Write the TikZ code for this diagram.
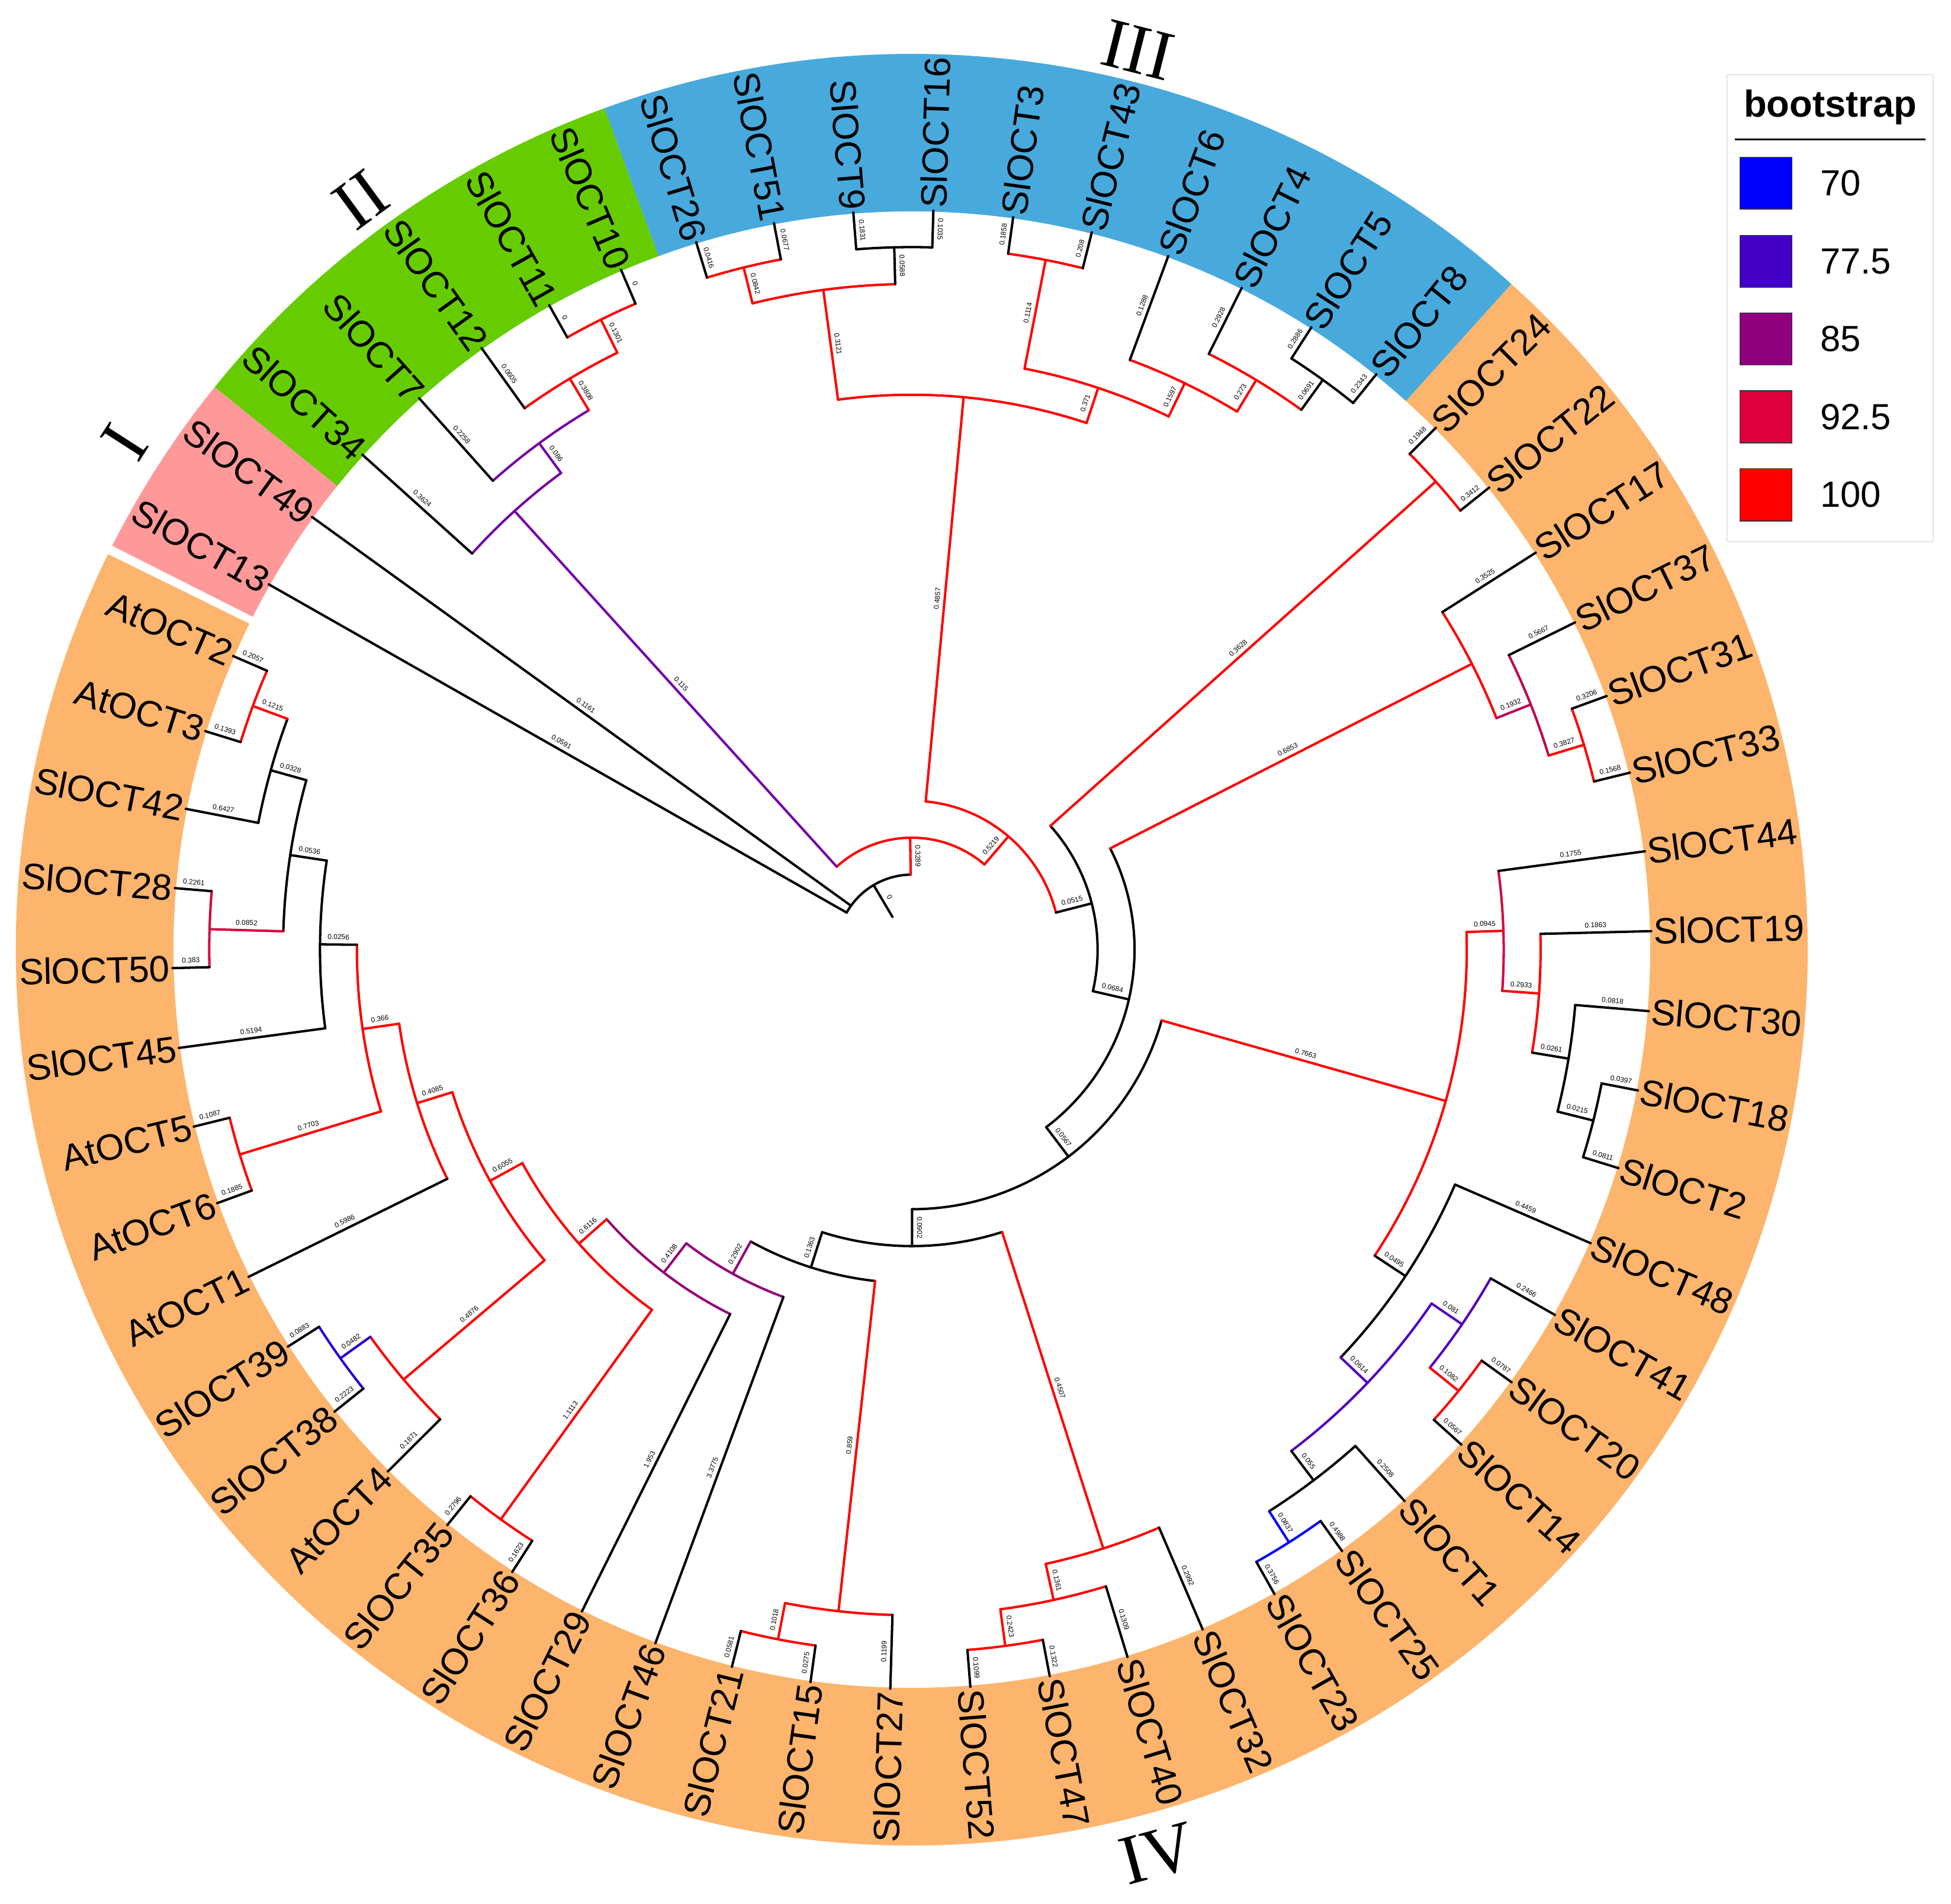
\documentclass[tikz,border=0pt]{standalone}
\usepackage{fontspec}
\setmainfont{Liberation Sans}
\newfontfamily\romanfont{Liberation Serif}
\definecolor{cI}{HTML}{FF9999}
\definecolor{cII}{HTML}{66CC00}
\definecolor{cIII}{HTML}{48A9DC}
\definecolor{cIV}{HTML}{FDB46C}
\definecolor{b100}{HTML}{FF0000}
\definecolor{b92}{HTML}{D6003F}
\definecolor{bAP}{HTML}{BC0050}
\definecolor{b85}{HTML}{930078}
\definecolor{bII}{HTML}{7400A6}
\definecolor{b77}{HTML}{5000BE}
\definecolor{bZ}{HTML}{2300DC}
\definecolor{b70}{HTML}{0000FF}
\definecolor{L70}{HTML}{0000FF}
\definecolor{L77}{HTML}{4400C7}
\definecolor{L85}{HTML}{8E007E}
\definecolor{L92}{HTML}{DD003D}
\definecolor{L100}{HTML}{FF0000}
\pgfmathdeclarefunction{trad}{1}{\pgfmathparse{12.49-0.6235*#1}}
\tikzset{
  tree/.style={line width=1.15pt, line cap=round, line join=round},
  blab/.style={font=\fontsize{3.4}{4}\selectfont, inner sep=2.2pt, anchor=south},
  lname/.style={font=\fontsize{17.6}{20}\selectfont, inner sep=0.04cm},
  grp/.style={font=\romanfont\fontsize{34}{40}\selectfont, inner sep=0pt},
  legtxt/.style={font=\fontsize{17.5}{20}\selectfont, anchor=west, inner sep=0pt},
  legbox/.style={draw=black!80, line width=0.015cm},
}
% radial branch: colour, angle, parent height, child height, label
\newcommand{\brn}[5]{%
  \draw[tree,#1] (#2:{trad(#3)}) -- (#2:{trad(#4)});
  \pgfmathsetmacro{\myMid}{(trad(#3)+trad(#4))/2}%
  \pgfmathsetmacro{\myRot}{ifthenelse(and(#2>-90,#2<86),#2,#2+180)}%
  \node[blab,rotate=\myRot] at (#2:\myMid) {#5};
}
% arc of an inner node: colour, height, start angle, end angle
\newcommand{\arcn}[4]{%
  \pgfmathsetmacro{\myRR}{trad(#2)}%
  \draw[tree,#1] (#3:\myRR) arc[start angle=#3, end angle=#4, radius=\myRR];
}
% leaf: angle, parent height, branch label, name
\newcommand{\leaf}[4]{%
  \brn{black}{#1}{#2}{0}{#3}%
  \pgfmathtruncatemacro{\myIsR}{and(#1>-90,#1<90)}%
  \ifnum\myIsR=1
    \node[lname,rotate=#1,anchor=west] at (#1:12.49) {#4};
  \else
    \node[lname,rotate=#1+180,anchor=east] at (#1:12.49) {#4};
  \fi
}
\newcommand{\band}[3]{%
  \fill[#1] (#2:12.47) arc[start angle=#2, end angle=#3, radius=12.47]
    -- (#3:15.13) arc[start angle=#3, end angle=#2, radius=15.13] -- cycle;
}
\begin{document}
\begin{tikzpicture}
\useasboundingbox (-15.40,-16.12) rectangle (17.55,16.04);
\fill[white] (-15.40,-16.12) rectangle (17.55,16.04);
% coloured ranges
\band{cI}{153.2}{141.09}
\band{cII}{141.09}{110.06}
\band{cIII}{110.06}{47.99}
\band{cIV}{47.99}{-206.2}
% arcs
\arcn{black}{18}{150.4}{90.852}
\arcn{b100}{17}{132.167}{49.537}
\arcn{b100}{16}{84.646}{14.428}
\arcn{black}{15}{41.780}{-12.925}
\arcn{black}{14}{27.038}{-52.887}
\arcn{black}{13}{-15.829}{-89.944}
\arcn{black}{12}{-72.273}{-107.615}
\arcn{black}{11}{-96.325}{-118.904}
\arcn{b85}{10}{-110.290}{-127.517}
\arcn{b85}{9}{-116.497}{-138.537}
\arcn{b100}{8}{-125.807}{-151.266}
\arcn{b100}{1}{-122.703}{-128.910}
\arcn{b100}{7}{-139.773}{-162.758}
\arcn{b100}{2}{-135.117}{-144.428}
\arcn{bZ}{1}{-141.324}{-147.531}
\arcn{b100}{6}{-153.738}{-171.778}
\arcn{b100}{5}{-163.049}{-180.506}
\arcn{b100}{1}{-159.945}{-166.152}
\arcn{black}{4}{-172.359}{-188.652}
\arcn{black}{3}{-181.669}{-195.635}
\arcn{b92}{1}{-178.566}{-184.772}
\arcn{black}{2}{-190.979}{-200.290}
\arcn{b100}{1}{-197.186}{-203.393}
\arcn{bII}{4}{137.986}{126.348}
\arcn{bII}{3}{131.779}{120.917}
\arcn{b100}{2}{125.572}{116.262}
\arcn{b100}{1}{119.366}{113.159}
\arcn{b100}{5}{97.642}{71.650}
\arcn{b100}{2}{103.849}{91.435}
\arcn{b100}{1}{106.952}{100.745}
\arcn{black}{1}{94.538}{88.331}
\arcn{b100}{4}{79.021}{64.279}
\arcn{b100}{1}{82.124}{75.917}
\arcn{b100}{3}{69.710}{58.848}
\arcn{b100}{2}{63.503}{54.193}
\arcn{black}{1}{57.297}{51.090}
\arcn{b100}{1}{44.883}{38.676}
\arcn{b100}{3}{32.469}{21.607}
\arcn{bAP}{2}{26.262}{16.952}
\arcn{b100}{1}{20.055}{13.848}
\arcn{b100}{5}{1.822}{-33.480}
\arcn{b92}{4}{7.641}{-3.997}
\arcn{b100}{3}{1.434}{-9.428}
\arcn{black}{2}{-4.773}{-14.083}
\arcn{black}{1}{-10.979}{-17.186}
\arcn{black}{4}{-23.393}{-43.566}
\arcn{b77}{3}{-34.255}{-52.876}
\arcn{b77}{2}{-29.600}{-38.911}
\arcn{b100}{1}{-35.807}{-42.014}
\arcn{black}{2}{-48.221}{-57.532}
\arcn{b70}{1}{-54.428}{-60.635}
\arcn{b100}{3}{-66.841}{-77.704}
\arcn{b100}{2}{-73.048}{-82.359}
\arcn{b100}{1}{-79.255}{-85.462}
\arcn{b100}{2}{-91.669}{-100.980}
\arcn{b100}{1}{-97.876}{-104.083}
% inner stems
\brn{black}{120.626}{19}{18}{0}
\brn{b100}{90.852}{18}{17}{0.3289}
\brn{bII}{132.167}{17}{4}{0.115}
\brn{b100}{49.537}{17}{16}{0.5219}
\brn{b100}{84.646}{16}{5}{0.4857}
\brn{black}{14.428}{16}{15}{0.0515}
\brn{b100}{41.780}{15}{1}{0.3628}
\brn{black}{-12.925}{15}{14}{0.0684}
\brn{b100}{27.038}{14}{3}{0.6853}
\brn{black}{-52.887}{14}{13}{0.0567}
\brn{b100}{-15.829}{13}{5}{0.7663}
\brn{black}{-89.944}{13}{12}{0.0902}
\brn{b100}{-72.273}{12}{3}{0.4507}
\brn{black}{-107.615}{12}{11}{0.1363}
\brn{b100}{-96.325}{11}{2}{0.859}
\brn{b85}{-118.904}{11}{10}{0.2902}
\brn{b85}{-127.517}{10}{9}{0.4108}
\brn{b100}{-138.537}{9}{8}{0.6116}
\brn{b100}{-125.807}{8}{1}{1.1113}
\brn{b100}{-151.266}{8}{7}{0.6055}
\brn{b100}{-139.773}{7}{2}{0.4876}
\brn{b100}{-162.758}{7}{6}{0.4085}
\brn{bZ}{-144.428}{2}{1}{0.0482}
\brn{b100}{-171.778}{6}{5}{0.366}
\brn{b100}{-163.049}{5}{1}{0.7703}
\brn{black}{-180.506}{5}{4}{0.0256}
\brn{black}{-188.652}{4}{3}{0.0536}
\brn{b92}{-181.669}{3}{1}{0.0852}
\brn{black}{-195.635}{3}{2}{0.0328}
\brn{b100}{-200.290}{2}{1}{0.1215}
\brn{bII}{126.348}{4}{3}{0.086}
\brn{b100}{120.917}{3}{2}{0.3808}
\brn{b100}{116.262}{2}{1}{0.1301}
\brn{b100}{97.642}{5}{2}{0.3121}
\brn{b100}{71.650}{5}{4}{0.371}
\brn{b100}{103.849}{2}{1}{0.0842}
\brn{black}{91.435}{2}{1}{0.0588}
\brn{b100}{79.021}{4}{1}{0.1114}
\brn{b100}{64.279}{4}{3}{0.1597}
\brn{b100}{58.848}{3}{2}{0.273}
\brn{black}{54.193}{2}{1}{0.0691}
\brn{bAP}{21.607}{3}{2}{0.1932}
\brn{b100}{16.952}{2}{1}{0.3827}
\brn{b100}{1.822}{5}{4}{0.0945}
\brn{black}{-33.480}{5}{4}{0.0495}
\brn{b100}{-3.997}{4}{3}{0.2933}
\brn{black}{-9.428}{3}{2}{0.0261}
\brn{black}{-14.083}{2}{1}{0.0215}
\brn{b77}{-43.566}{4}{3}{0.0614}
\brn{b77}{-34.255}{3}{2}{0.081}
\brn{black}{-52.876}{3}{2}{0.055}
\brn{b100}{-38.911}{2}{1}{0.1082}
\brn{b70}{-57.532}{2}{1}{0.0837}
\brn{b100}{-77.704}{3}{2}{0.1361}
\brn{b100}{-82.359}{2}{1}{0.2423}
\brn{b100}{-100.980}{2}{1}{0.1018}
% leaves
\leaf{150.4}{18}{0.0591}{SlOCT13}
\leaf{144.193}{18}{0.1161}{SlOCT49}
\leaf{137.986}{4}{0.3624}{SlOCT34}
\leaf{131.779}{3}{0.2258}{SlOCT7}
\leaf{125.572}{2}{0.0605}{SlOCT12}
\leaf{119.366}{1}{0}{SlOCT11}
\leaf{113.159}{1}{0}{SlOCT10}
\leaf{106.952}{1}{0.0416}{SlOCT26}
\leaf{100.745}{1}{0.0677}{SlOCT51}
\leaf{94.538}{1}{0.1831}{SlOCT9}
\leaf{88.331}{1}{0.1035}{SlOCT16}
\leaf{82.124}{1}{0.1858}{SlOCT3}
\leaf{75.917}{1}{0.208}{SlOCT43}
\leaf{69.710}{3}{0.1288}{SlOCT6}
\leaf{63.503}{2}{0.2928}{SlOCT4}
\leaf{57.297}{1}{0.2886}{SlOCT5}
\leaf{51.090}{1}{0.2343}{SlOCT8}
\leaf{44.883}{1}{0.1948}{SlOCT24}
\leaf{38.676}{1}{0.3412}{SlOCT22}
\leaf{32.469}{3}{0.3525}{SlOCT17}
\leaf{26.262}{2}{0.5667}{SlOCT37}
\leaf{20.055}{1}{0.3206}{SlOCT31}
\leaf{13.848}{1}{0.1568}{SlOCT33}
\leaf{7.641}{4}{0.1755}{SlOCT44}
\leaf{1.434}{3}{0.1863}{SlOCT19}
\leaf{-4.773}{2}{0.0818}{SlOCT30}
\leaf{-10.979}{1}{0.0397}{SlOCT18}
\leaf{-17.186}{1}{0.0811}{SlOCT2}
\leaf{-23.393}{4}{0.4459}{SlOCT48}
\leaf{-29.600}{2}{0.2466}{SlOCT41}
\leaf{-35.807}{1}{0.0787}{SlOCT20}
\leaf{-42.014}{1}{0.0567}{SlOCT14}
\leaf{-48.221}{2}{0.2508}{SlOCT1}
\leaf{-54.428}{1}{0.4988}{SlOCT25}
\leaf{-60.635}{1}{0.3756}{SlOCT23}
\leaf{-66.841}{3}{0.2992}{SlOCT32}
\leaf{-73.048}{2}{0.1309}{SlOCT40}
\leaf{-79.255}{1}{0.1322}{SlOCT47}
\leaf{-85.462}{1}{0.1099}{SlOCT52}
\leaf{-91.669}{2}{0.1199}{SlOCT27}
\leaf{-97.876}{1}{0.0275}{SlOCT15}
\leaf{-104.083}{1}{0.0581}{SlOCT21}
\leaf{-110.290}{10}{3.3775}{SlOCT46}
\leaf{-116.497}{9}{1.953}{SlOCT29}
\leaf{-122.703}{1}{0.1623}{SlOCT36}
\leaf{-128.910}{1}{0.2796}{SlOCT35}
\leaf{-135.117}{2}{0.1871}{AtOCT4}
\leaf{-141.324}{1}{0.2223}{SlOCT38}
\leaf{-147.531}{1}{0.0883}{SlOCT39}
\leaf{-153.738}{6}{0.5986}{AtOCT1}
\leaf{-159.945}{1}{0.1885}{AtOCT6}
\leaf{-166.152}{1}{0.1087}{AtOCT5}
\leaf{-172.359}{4}{0.5194}{SlOCT45}
\leaf{-178.566}{1}{0.383}{SlOCT50}
\leaf{-184.772}{1}{0.2261}{SlOCT28}
\leaf{-190.979}{2}{0.6427}{SlOCT42}
\leaf{-197.186}{1}{0.1393}{AtOCT3}
\leaf{-203.393}{1}{0.2057}{AtOCT2}
% group numerals
\node[grp, rotate=57.2] (gI) at (147.2:15.82) {I};
\node[grp, rotate=36.3] (gII) at (126.3:15.72) {II};
\node[grp, rotate=-14.1] (gIII) at (75.9:15.67) {III};
\node[grp, rotate=15.2] (gIV) at (-74.8:15.83) {IV};
% legend
\draw[draw=black!10, line width=0.02cm, fill=white] (13.77,6.89) rectangle (17.25,14.78);
\node[font=\bfseries\fontsize{18}{20}\selectfont, anchor=base, inner sep=0pt] (legtitle) at (15.51,14.06) {bootstrap};
\draw[line width=0.025cm] (13.90,13.685) -- (17.117,13.685);
\draw[legbox, fill=L70]  (13.983,12.508) rectangle (14.867,13.381);
\draw[legbox, fill=L77]  (13.983,11.185) rectangle (14.867,12.063);
\draw[legbox, fill=L85]  (13.983,9.877)  rectangle (14.867,10.756);
\draw[legbox, fill=L92]  (13.983,8.559)  rectangle (14.867,9.438);
\draw[legbox, fill=L100] (13.983,7.241)  rectangle (14.867,8.125);
\node[legtxt] (l70) at (15.333,12.945) {70};
\node[legtxt] (l77) at (15.333,11.624) {77.5};
\node[legtxt] (l85) at (15.333,10.317) {85};
\node[legtxt] (l92) at (15.333,8.999) {92.5};
\node[legtxt] (l100) at (15.333,7.683) {100};
\end{tikzpicture}
\end{document}
